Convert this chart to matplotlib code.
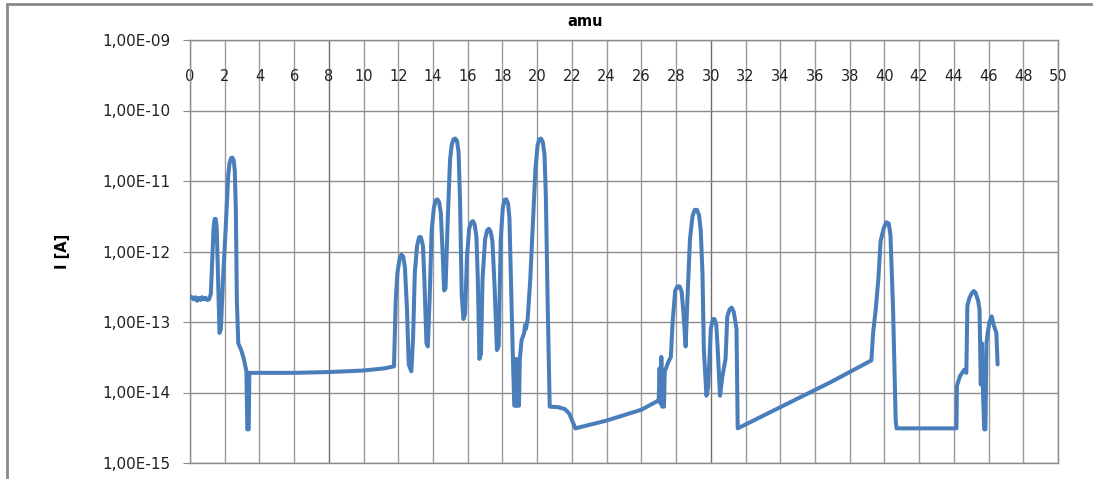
import matplotlib
matplotlib.use("Agg")
import matplotlib.pyplot as plt
from matplotlib.patches import Rectangle
from matplotlib.ticker import FixedLocator, FuncFormatter

# mass scan: amu vs ion current (A)
amu = [0.05, 0.2, 0.3, 0.4, 0.5, 0.6, 0.7, 0.8, 0.9, 1.0, 1.1, 1.2,
       1.3, 1.36, 1.42, 1.48, 1.54, 1.6, 1.7, 1.78, 1.9, 2.05, 2.2, 2.28, 2.36, 2.44, 2.52, 2.58, 2.64,
       2.7, 2.78, 2.95, 3.1, 3.25, 3.3, 3.38, 3.42,
       6.0, 8.0, 10.0, 11.2, 11.75,
       11.85, 11.95, 12.08, 12.18, 12.28, 12.38, 12.5, 12.6, 12.75, 12.85, 12.95, 13.08, 13.2,
       13.3, 13.42, 13.5, 13.62, 13.7, 13.8, 13.92, 14.05, 14.15, 14.25, 14.35, 14.45, 14.55,
       14.64, 14.72, 14.85, 14.98, 15.08, 15.18, 15.28, 15.38, 15.47, 15.55, 15.65, 15.75,
       15.85, 15.95, 16.08, 16.2, 16.3, 16.4, 16.5, 16.58, 16.67, 16.76, 16.85, 17.0, 17.12,
       17.22, 17.32, 17.42, 17.55, 17.68, 17.78, 17.9, 18.02, 18.12, 18.22, 18.32, 18.4, 18.5,
       18.6, 18.68, 18.78, 18.8, 18.85, 18.95, 19.0, 19.1, 19.25, 19.3, 19.35, 19.45, 19.6,
       19.75, 19.9, 20.02, 20.12, 20.22, 20.32, 20.42, 20.5, 20.6, 20.72,
       21.2, 21.6, 21.85, 22.05, 22.2,
       24.0, 26.0, 26.9, 27.0, 27.05, 27.1, 27.15, 27.2, 27.3, 27.35, 27.55, 27.7, 27.8, 27.95,
       28.08, 28.2, 28.32, 28.42, 28.55, 28.65, 28.8, 28.95, 29.08, 29.2, 29.32, 29.42, 29.52,
       29.6, 29.75, 29.85, 30.0, 30.12, 30.22, 30.32, 30.4, 30.53, 30.65, 30.85, 30.95, 31.08,
       31.2, 31.32, 31.48, 31.55,
       36.9, 39.25,
       39.35, 39.5, 39.65, 39.78, 39.95, 40.1, 40.25, 40.35, 40.5, 40.65, 40.7,
       44.15, 44.18, 44.35, 44.6, 44.72, 44.78, 44.9, 45.05, 45.15, 45.25, 45.4, 45.48, 45.55,
       45.62, 45.68, 45.75, 45.82, 45.88, 45.95, 46.05, 46.18, 46.3, 46.45, 46.52]

current = [2.3e-13, 2.1e-13, 2.25e-13, 2.0e-13, 2.2e-13, 2.05e-13, 2.25e-13, 2.1e-13, 2.2e-13, 2.05e-13, 2.1e-13, 2.5e-13,
           1.0e-12, 2.2e-12, 2.9e-12, 2.9e-12, 2.2e-12, 6e-13, 7e-14, 8e-14, 4e-13, 2e-12, 1.2e-11, 1.8e-11, 2.1e-11, 2.15e-11, 1.95e-11, 1.4e-11, 4e-12,
           2e-13, 5e-14, 4e-14, 3e-14, 2.0e-14, 3e-15, 3e-15, 1.9e-14,
           1.9e-14, 1.95e-14, 2.05e-14, 2.2e-14, 2.35e-14,
           2e-13, 5e-13, 8e-13, 9e-13, 8.5e-13, 6e-13, 1.5e-13, 2.5e-14, 2.0e-14, 6e-14, 5e-13, 1.2e-12, 1.6e-12,
           1.6e-12, 1.2e-12, 4e-13, 5e-14, 4.5e-14, 2e-13, 2e-12, 4.2e-12, 5.3e-12, 5.5e-12, 5e-12, 3.5e-12, 1e-12,
           2.8e-13, 3e-13, 3e-12, 2e-11, 3.3e-11, 3.9e-11, 4.0e-11, 3.7e-11, 2.6e-11, 6e-12, 2.5e-13, 1.1e-13,
           1.3e-13, 8e-13, 2.1e-12, 2.6e-12, 2.7e-12, 2.4e-12, 1.6e-12, 4e-13, 3e-14, 3.5e-14, 4e-13, 1.5e-12, 2e-12,
           2.1e-12, 1.9e-12, 1.4e-12, 3e-13, 4e-14, 4.5e-14, 1.5e-12, 4.2e-12, 5.4e-12, 5.5e-12, 4.8e-12, 3e-12, 3e-13,
           3e-14, 6.5e-15, 6.5e-15, 3e-14, 6.5e-15, 6.5e-15, 3e-14, 5.5e-14, 7e-14, 9e-14, 8e-14, 1.1e-13, 4e-13,
           2.5e-12, 1.5e-11, 3.2e-11, 3.9e-11, 4.0e-11, 3.6e-11, 2.4e-11, 6e-12, 2e-13, 6.3e-15,
           6.2e-15, 5.8e-15, 5e-15, 3.8e-15, 3.1e-15,
           4e-15, 5.7e-15, 7.5e-15, 8e-15, 2.2e-14, 7e-15, 3.2e-14, 6.3e-15, 6.3e-15, 2e-14, 2.7e-14, 3.2e-14, 1e-13, 2.8e-13,
           3.2e-13, 3.2e-13, 2.7e-13, 1.4e-13, 4.5e-14, 2e-13, 1.5e-12, 3.2e-12, 3.9e-12, 3.9e-12, 3.3e-12, 2e-12, 5e-13,
           4e-14, 9e-15, 1.2e-14, 8e-14, 1.1e-13, 1.1e-13, 9e-14, 4e-14, 9e-15, 1.6e-14, 3e-14, 1.2e-13, 1.5e-13,
           1.6e-13, 1.4e-13, 8e-14, 3.1e-15,
           1.4e-14, 2.85e-14,
           7e-14, 1.5e-13, 4e-13, 1.4e-12, 2.1e-12, 2.6e-12, 2.5e-12, 1.7e-12, 1.5e-13, 4e-15, 3.1e-15,
           3.1e-15, 1.25e-14, 1.7e-14, 2.1e-14, 1.9e-14, 1.7e-13, 2.2e-13, 2.6e-13, 2.75e-13, 2.6e-13, 2e-13, 1.5e-13, 1.3e-14,
           5e-14, 1e-14, 3e-15, 3e-15, 5e-14, 7e-14, 1e-13, 1.2e-13, 9e-14, 7e-14, 2.5e-14]

x_ticks = list(range(0, 51, 2))
y_ticks = [1e-15, 1e-14, 1e-13, 1e-12, 1e-11, 1e-10, 1e-9]

fig = plt.figure(figsize=(10.93, 4.79), dpi=100)
ax = fig.add_axes([190 / 1093, 1 - 463 / 479, 868 / 1093, 423 / 479])

# gridlines (the ones at 8 and 30 look darker in the original)
for xv in x_ticks:
    c = "#6e6e6e" if xv in (8, 30) else "#9a9a9a"
    ax.axvline(xv, color=c, lw=1, zorder=1)
for yv in y_ticks:
    ax.axhline(yv, color="#8c8c8c", lw=1, zorder=1)

ax.plot(amu, current, color="#4a7ebb", lw=2.9, solid_joinstyle="round",
        solid_capstyle="round", zorder=3)

ax.set_yscale("log")
ax.set_xlim(0, 50)
ax.set_ylim(1e-15, 1e-9)

ax.xaxis.set_major_locator(FixedLocator(x_ticks))
ax.xaxis.tick_top()
ax.tick_params(axis="x", length=0, pad=-32, labelsize=10.5, labelcolor="#222222")

ax.yaxis.set_major_locator(FixedLocator(y_ticks))
ax.yaxis.set_minor_locator(FixedLocator([]))
ax.yaxis.set_major_formatter(FuncFormatter(lambda v, p: ("%.2E" % v).replace(".", ",")))
ax.tick_params(axis="y", length=5, color="#8c8c8c", pad=9, labelsize=11, labelcolor="#222222")

for s in ax.spines.values():
    s.set_color("#8c8c8c")
    s.set_linewidth(1)

fig.text(585 / 1093, 1 - 22 / 479, "amu", ha="center", va="center", fontsize=10.5, fontweight="bold")
fig.text(62 / 1093, 1 - 251 / 479, "I [A]", ha="center", va="center", rotation=90,
         fontsize=10.5, fontweight="bold")

# outer chart frame (right and bottom edges are cut off in the reference)
fig.add_artist(Rectangle((7 / 1093, -0.2), 1.2, 1.2 - 4 / 479,
                         transform=fig.transFigure, fill=False, ec="#8a8a8a", lw=2))

fig.savefig("out.png", dpi=100)
